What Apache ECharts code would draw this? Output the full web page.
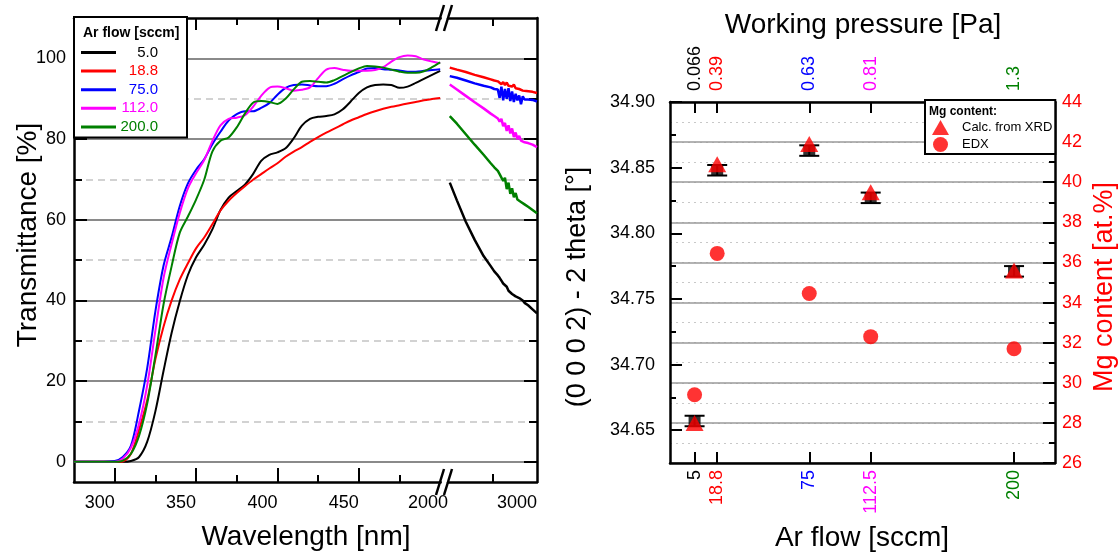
<!DOCTYPE html>
<html lang="en">
<head>
<meta charset="UTF-8">
<title>Transmittance and XRD</title>
<script src="https://cdn.jsdelivr.net/npm/echarts@6/dist/echarts.min.js"></script>
<style>
    html, body { margin: 0; padding: 0; background: #fff; }
    #main { width: 1120px; height: 558px; }
</style>
</head>
<body>
<div id="main"></div>
<script type="text/javascript">
    // ---- left panel: transmittance spectra ----
    var seriesNames = ['5.0', '18.8', '75.0', '112.0', '200.0'];
    var seriesColors = ['#000000', '#ff0000', '#0000ff', '#ff00ff', '#008000'];

    var uvWavelength = [275, 290, 300, 305, 310, 315, 320, 325, 330, 335, 340, 345, 350, 355, 360, 365, 370, 375, 380, 385,
        390, 395, 400, 405, 410, 415, 420, 425, 430, 435, 440, 445, 450, 455, 460, 465, 470, 475, 480, 485, 490, 495, 500];
    var uv5 = [0, 0, 0, 0, 0.2, 1.2, 5, 12.5, 22.5, 32, 39.8, 46.3, 50.7, 53.8, 57.6, 62.4, 65.5, 67.1, 68.7, 71.3,
        74.6, 76.1, 76.7, 77.7, 80.2, 83.3, 85, 85.5, 85.7, 86.1, 87.3, 89.3, 91.4, 92.8, 93.4, 93.5, 93.4, 92.7, 93, 93.9, 94.9, 95.9, 96.9];
    var uv18 = [0, 0, 0, 0.1, 2, 8, 15.3, 25.4, 33.5, 40, 45.2, 49.2, 52.9, 55.6, 58.9, 62.3, 64.7, 66.6, 68.3, 69.9,
        71.3, 72.7, 74, 75.6, 76.9, 78, 79.3, 80.5, 81.6, 82.6, 83.6, 84.6, 85.4, 86.2, 86.9, 87.5, 88, 88.4, 88.8, 89.2, 89.6, 89.9, 90.2];
    var uv75 = [0, 0, 0.2, 1.2, 4, 12.8, 23.3, 37.3, 48.6, 55.7, 63.4, 69, 72.4, 75, 78.7, 81.8, 84.6, 86.2, 86.9, 86.9,
        87.7, 88.9, 91, 92.7, 93.4, 93.5, 93.3, 93.1, 93.1, 93.7, 94.8, 95.8, 96.6, 97.5, 97.6, 97.3, 97.2, 97, 96.7, 96.7, 96.9, 97.1, 97.3];
    var uv112 = [0, 0, 0, 0.8, 3.5, 9.5, 19, 32.5, 45.5, 54, 61.7, 67.8, 71.5, 74.8, 79.5, 83.4, 85, 85.3, 85.9, 88,
        90.7, 92.7, 93, 92.6, 92, 92.2, 92.8, 95.1, 97.2, 97.6, 97.2, 96.9, 96.9, 96.9, 97.1, 97.8, 99.2, 100.3, 100.7, 100.5, 99.7, 99.2, 98.8];
    var uv200 = [0, 0, 0, 0.3, 2, 6.5, 14.5, 26.3, 39, 48.5, 56.8, 60.8, 65, 69.9, 76.9, 79.6, 80.4, 82.9, 86.3, 89,
        89.4, 89.2, 88.7, 90, 92.3, 94.2, 94.4, 94.2, 94, 94.6, 95.6, 96.6, 97.5, 98.1, 98, 97.7, 97.2, 96.7, 96.4, 96.4, 96.8, 97.8, 99];

    var irWavelength = [2020, 2100, 2200, 2300, 2400, 2480, 2520, 2560, 2580, 2600, 2620, 2640, 2660, 2680,
        2700, 2720, 2740, 2760, 2780, 2800, 2820, 2840, 2860, 2880, 2900, 2950, 3000];
    var ir5 = [69.2, 64.8, 59.5, 55.0, 51.0, 48.5, 47.2, 46.2, 45.6, 44.9, 44.2, 43.8, 43.4, 42.4,
        42.6, 41.6, 41.8, 41.0, 40.9, 40.6, 40.4, 40.0, 39.4, 39.2, 38.8, 37.8, 36.8];
    var ir18 = [97.7, 97.2, 96.6, 95.9, 95.3, 94.8, 94.5, 94.3, 94.6, 93.6, 94.1, 93.4, 94.0, 93.2,
        93.6, 93.0, 93.5, 92.6, 93.0, 92.4, 92.6, 92.0, 92.3, 91.9, 92.0, 91.7, 91.4];
    var ir75 = [95.6, 95.2, 94.5, 93.8, 93.2, 92.8, 92.4, 92.3, 90.2, 93.0, 89.6, 92.4, 90.0, 92.6,
        89.4, 91.8, 89.2, 91.2, 89.6, 90.8, 88.6, 90.6, 89.8, 90.2, 89.8, 89.7, 89.3];
    var ir112 = [93.5, 92.3, 90.7, 89.1, 87.6, 86.3, 85.7, 85.1, 84.3, 85.0, 83.2, 84.0, 82.0, 83.4,
        81.4, 82.6, 80.5, 81.6, 80.0, 80.8, 79.6, 80.0, 79.2, 79.4, 79.0, 78.6, 78.0];
    var ir200 = [85.7, 83.8, 81.2, 78.6, 76.1, 74.0, 73.0, 72.1, 71.3, 71.0, 69.6, 70.4, 67.6, 69.2,
        66.4, 67.8, 65.6, 66.6, 65.0, 65.4, 64.4, 64.6, 63.8, 63.6, 63.2, 62.4, 61.6];

    var uvSets = [uv5, uv18, uv75, uv112, uv200];
    var irSets = [ir5, ir18, ir75, ir112, ir200];

    var wlMajorTicks = [300, 350, 400, 450];
    var wlMinorTicks = [325, 375, 425, 475];
    var irLabels = [2000, 3000];
    var irTicks = [2500];
    var tMajorTicks = [0, 20, 40, 60, 80, 100];
    var tMinorTicks = [10, 30, 50, 70, 90];

    // ---- right panel: XRD peak position and Mg content ----
    var arFlow = [5, 18.8, 75, 112.5, 200];
    var pressureLabels = ['0.066', '0.39', '0.63', '0.81', '1.3'];
    var theta0002 = [34.657, 34.848, 34.863, 34.827, 34.771];
    var thetaErr = [0.004, 0.004, 0.004, 0.004, 0.004];
    var mgXrd = [28.0, 40.9, 41.9, 39.5, 35.6];
    var mgEdx = [29.4, 36.45, 34.45, 32.3, 31.7];
    var thetaMajorTicks = [34.65, 34.70, 34.75, 34.80, 34.85, 34.90];
    var thetaMinorTicks = [34.675, 34.725, 34.775, 34.825, 34.875];

    var FONT = 'Arial, "Liberation Sans", sans-serif';
    var BLACK_LINE = { color: '#000', width: 2.5 };
    var TICK_LINE = { color: '#000', width: 2 };

    // layout of the left panel (frame 74..537 x 18..482)
    var LX = 74, LY = 18, LH = 464;
    var TMIN = -5, TMAX = 110;
    function tPx(v) { return LY + (TMAX - v) * LH / (TMAX - TMIN); }

    function zip(xs, ys) { return xs.map(function (x, i) { return [x, ys[i]]; }); }
    function plain(v) { return String(v); }

    var myChart = echarts.init(document.getElementById('main'));

    var series = [];
    seriesNames.forEach(function (name, i) {
        series.push({
            name: name, type: 'line', xAxisIndex: 0, yAxisIndex: 0,
            data: zip(uvWavelength, uvSets[i]),
            symbol: 'none', smooth: 0.3,
            lineStyle: { color: seriesColors[i], width: 2 },
            itemStyle: { color: seriesColors[i] }
        });
    });
    seriesNames.forEach(function (name, i) {
        series.push({
            name: name, type: 'line', xAxisIndex: 4, yAxisIndex: 2,
            data: zip(irWavelength, irSets[i]),
            symbol: 'none',
            lineStyle: { color: seriesColors[i], width: 2.5 },
            itemStyle: { color: seriesColors[i] }
        });
    });

    series.push({
        name: 'theta err', type: 'custom', xAxisIndex: 8, yAxisIndex: 6,
        data: arFlow.map(function (f, i) { return [f, theta0002[i] - thetaErr[i], theta0002[i] + thetaErr[i]]; }),
        encode: { x: 0, y: [1, 2] },
        renderItem: function (params, api) {
            var top = api.coord([api.value(0), api.value(2)]);
            var bot = api.coord([api.value(0), api.value(1)]);
            var w = 10;
            var st = { stroke: '#000', lineWidth: 2 };
            return {
                type: 'group', children: [
                    { type: 'line', shape: { x1: top[0], y1: top[1], x2: bot[0], y2: bot[1] }, style: st },
                    { type: 'line', shape: { x1: top[0] - w, y1: top[1], x2: top[0] + w, y2: top[1] }, style: st },
                    { type: 'line', shape: { x1: bot[0] - w, y1: bot[1], x2: bot[0] + w, y2: bot[1] }, style: st }
                ]
            };
        },
        z: 3
    });
    series.push({
        name: '2theta', type: 'scatter', xAxisIndex: 8, yAxisIndex: 6,
        data: zip(arFlow, theta0002), symbol: 'rect', symbolSize: [12, 11],
        itemStyle: { color: '#000' }, z: 3
    });
    series.push({
        name: 'Calc. from XRD', type: 'scatter', xAxisIndex: 8, yAxisIndex: 9,
        data: zip(arFlow, mgXrd), symbol: 'triangle', symbolSize: [18, 16],
        itemStyle: { color: '#ff0000' }, z: 4
    });
    series.push({
        name: 'EDX', type: 'scatter', xAxisIndex: 8, yAxisIndex: 9,
        data: zip(arFlow, mgEdx), symbol: 'circle', symbolSize: 15,
        itemStyle: { color: '#ff0000' }, z: 4
    });

    function flowColor(val) {
        var i = arFlow.indexOf(Number(val));
        return i < 0 ? '#000' : seriesColors[i];
    }

    function breakMark(y) {
        return [
            { type: 'polygon', z: 100, shape: { points: [[438, y + 13], [446, y - 13], [450, y - 13], [442, y + 13]] }, style: { fill: '#fff' } },
            { type: 'line', z: 101, shape: { x1: 436, y1: y + 13, x2: 444, y2: y - 13 }, style: { stroke: '#000', lineWidth: 2.5 } },
            { type: 'line', z: 101, shape: { x1: 444, y1: y + 13, x2: 452, y2: y - 13 }, style: { stroke: '#000', lineWidth: 2.5 } }
        ];
    }

    function title(text, x, y, rot, color, size) {
        return {
            type: 'text', x: x, y: y, rotation: rot ? Math.PI / 2 : 0, z: 100,
            style: { text: text, fontSize: size || 28, fontFamily: FONT, fill: color || '#000', align: 'center', verticalAlign: 'middle' }
        };
    }

    var option = {
        animation: false,
        backgroundColor: '#fff',
        grid: [
            { left: LX, top: LY, width: 367, height: LH },
            { left: 448, top: LY, width: 89, height: LH },
            { left: LX, top: tPx(100), width: 463, height: tPx(0) - tPx(100) },
            { left: LX, top: tPx(90), width: 463, height: tPx(10) - tPx(90) },
            { left: 670, top: 102, width: 385, height: 361 }
        ],
        xAxis: [
            { gridIndex: 0, type: 'value', position: 'bottom', min: 275, max: 500.5,
                axisLine: { onZero: false, lineStyle: BLACK_LINE },
                axisTick: { inside: true, length: 14, customValues: wlMajorTicks, lineStyle: TICK_LINE },
                axisLabel: { customValues: wlMajorTicks, formatter: plain, align: 'right', margin: 12, fontSize: 18, color: '#000', fontFamily: FONT },
                splitLine: { show: false } },
            { gridIndex: 0, type: 'value', position: 'bottom', min: 275, max: 500.5,
                axisLine: { show: false, onZero: false },
                axisTick: { inside: true, length: 7, customValues: wlMinorTicks, lineStyle: TICK_LINE },
                axisLabel: { show: false }, splitLine: { show: false } },
            { gridIndex: 0, type: 'value', position: 'top', min: 275, max: 500.5,
                axisLine: { onZero: false, lineStyle: BLACK_LINE },
                axisTick: { inside: true, length: 12, customValues: wlMajorTicks, lineStyle: TICK_LINE },
                axisLabel: { show: false }, splitLine: { show: false } },
            { gridIndex: 0, type: 'value', position: 'top', min: 275, max: 500.5,
                axisLine: { show: false, onZero: false },
                axisTick: { inside: true, length: 7, customValues: wlMinorTicks, lineStyle: TICK_LINE },
                axisLabel: { show: false }, splitLine: { show: false } },
            { gridIndex: 1, type: 'value', position: 'bottom', min: 2000, max: 3000,
                axisLine: { onZero: false, lineStyle: BLACK_LINE },
                axisTick: { inside: true, length: 8, customValues: irTicks, lineStyle: TICK_LINE },
                axisLabel: { customValues: irLabels, formatter: plain, align: 'right', margin: 12, fontSize: 18, color: '#000', fontFamily: FONT },
                splitLine: { show: false } },
            { gridIndex: 1, type: 'value', position: 'top', min: 2000, max: 3000,
                axisLine: { onZero: false, lineStyle: BLACK_LINE },
                axisTick: { inside: true, length: 8, customValues: irTicks, lineStyle: TICK_LINE },
                axisLabel: { show: false }, splitLine: { show: false } },
            { gridIndex: 2, type: 'value', min: 0, max: 1, show: false },
            { gridIndex: 3, type: 'value', min: 0, max: 1, show: false },
            { gridIndex: 4, type: 'value', position: 'bottom', min: -10, max: 225,
                axisLine: { onZero: false, lineStyle: BLACK_LINE },
                axisTick: { inside: true, length: 11, customValues: arFlow, lineStyle: TICK_LINE },
                axisLabel: { customValues: arFlow, formatter: plain, rotate: 90, margin: 7, fontSize: 18, fontFamily: FONT, color: flowColor },
                splitLine: { show: false } },
            { gridIndex: 4, type: 'value', position: 'top', min: -10, max: 225,
                axisLine: { onZero: false, lineStyle: BLACK_LINE },
                axisTick: { inside: true, length: 11, customValues: arFlow, lineStyle: TICK_LINE },
                axisLabel: { customValues: arFlow, rotate: -90, margin: 11, fontSize: 18, fontFamily: FONT, color: flowColor,
                    formatter: function (v) { return pressureLabels[arFlow.indexOf(v)]; } },
                splitLine: { show: false } }
        ],
        yAxis: [
            { gridIndex: 0, type: 'value', position: 'left', min: TMIN, max: TMAX,
                axisLine: { onZero: false, lineStyle: BLACK_LINE },
                axisTick: { inside: true, length: 13, customValues: tMajorTicks, lineStyle: TICK_LINE },
                axisLabel: { customValues: tMajorTicks, margin: 8, fontSize: 18, color: '#000', fontFamily: FONT },
                splitLine: { show: false } },
            { gridIndex: 0, type: 'value', position: 'left', min: TMIN, max: TMAX,
                axisLine: { show: false, onZero: false },
                axisTick: { inside: true, length: 8, customValues: tMinorTicks, lineStyle: TICK_LINE },
                axisLabel: { show: false }, splitLine: { show: false } },
            { gridIndex: 1, type: 'value', position: 'right', min: TMIN, max: TMAX,
                axisLine: { onZero: false, lineStyle: BLACK_LINE },
                axisTick: { inside: true, length: 13, customValues: tMajorTicks, lineStyle: TICK_LINE },
                axisLabel: { show: false }, splitLine: { show: false } },
            { gridIndex: 1, type: 'value', position: 'right', min: TMIN, max: TMAX,
                axisLine: { show: false, onZero: false },
                axisTick: { inside: true, length: 8, customValues: tMinorTicks, lineStyle: TICK_LINE },
                axisLabel: { show: false }, splitLine: { show: false } },
            { gridIndex: 2, type: 'value', min: 0, max: 100, interval: 20,
                axisLine: { show: false }, axisTick: { show: false }, axisLabel: { show: false },
                splitLine: { show: true, lineStyle: { color: '#8a8a8a', width: 2 } } },
            { gridIndex: 3, type: 'value', min: 10, max: 90, interval: 20,
                axisLine: { show: false }, axisTick: { show: false }, axisLabel: { show: false },
                splitLine: { show: true, lineStyle: { color: '#c4c4c4', width: 1.5, type: [7, 5] } } },
            { gridIndex: 4, type: 'value', position: 'left', min: 34.625, max: 34.9,
                axisLine: { onZero: false, lineStyle: BLACK_LINE },
                axisTick: { inside: true, length: 12, customValues: thetaMajorTicks, lineStyle: TICK_LINE },
                axisLabel: { customValues: thetaMajorTicks, margin: 15, fontSize: 18, color: '#000', fontFamily: FONT,
                    formatter: function (v) { return v.toFixed(2); } },
                splitLine: { show: false } },
            { gridIndex: 4, type: 'value', position: 'left', min: 34.625, max: 34.9,
                axisLine: { show: false, onZero: false },
                axisTick: { inside: true, length: 6, customValues: thetaMinorTicks, lineStyle: TICK_LINE },
                axisLabel: { show: false }, splitLine: { show: false } },
            { gridIndex: 4, type: 'value', position: 'right', min: 26, max: 44, interval: 1,
                axisLine: { onZero: false, lineStyle: BLACK_LINE },
                axisTick: { inside: true, length: 6, lineStyle: TICK_LINE },
                axisLabel: { show: false },
                splitLine: { show: true, lineStyle: { color: '#c8c8c8', width: 1, type: [2, 4] } } },
            { gridIndex: 4, type: 'value', position: 'right', min: 26, max: 44, interval: 2,
                axisLine: { show: false, onZero: false },
                axisTick: { inside: true, length: 12, lineStyle: TICK_LINE },
                axisLabel: { margin: 7, fontSize: 18, color: '#ff0000', fontFamily: FONT },
                splitLine: { show: true, lineStyle: { color: '#9a9a9a', width: 1.5 } } }
        ],
        legend: [
            {
                data: seriesNames.map(function (n, i) { return { name: n, textStyle: { color: seriesColors[i] } }; }),
                orient: 'vertical', left: LX, top: 17,
                backgroundColor: '#fff', borderColor: '#000', borderWidth: 2, borderRadius: 0,
                padding: [28, 29, 3, 7],
                icon: 'rect', itemWidth: 35, itemHeight: 3, itemGap: 3.6,
                formatter: function (name) { return '{v|' + name + '}'; },
                textStyle: { fontSize: 15, fontFamily: FONT, lineHeight: 14,
                    rich: { v: { width: 37, align: 'right', fontSize: 15, fontFamily: FONT, lineHeight: 14 } } },
                selectedMode: false
            },
            {
                data: ['Calc. from XRD', 'EDX'],
                orient: 'vertical', left: 925, top: 100,
                backgroundColor: '#fff', borderColor: '#000', borderWidth: 2, borderRadius: 0,
                padding: [20, 3, 2, 7],
                itemWidth: 17, itemHeight: 15, itemGap: 2,
                textStyle: { fontSize: 13, fontFamily: FONT, color: '#000', padding: [0, 0, 0, 8] },
                selectedMode: false
            }
        ],
        graphic: [
            { type: 'text', x: 83, y: 33, z: 100,
                style: { text: 'Ar flow [sccm]', fontSize: 14, fontWeight: 'bold', fontFamily: FONT, fill: '#000', verticalAlign: 'middle' } },
            { type: 'text', x: 929, y: 112, z: 100,
                style: { text: 'Mg content:', fontSize: 12, fontWeight: 'bold', fontFamily: FONT, fill: '#000', verticalAlign: 'middle' } },
            title('Wavelength [nm]', 306, 537),
            title('Transmittance [%]', 28, 235, true),
            title('Working pressure [Pa]', 863, 25),
            title('Ar flow [sccm]', 862, 538),
            title('(0 0 0 2) - 2 theta [°]', 578, 287, true, '#000', 27),
            title('Mg content [at.%]', 1105, 287, true, '#ff0000', 27)
        ].concat(breakMark(482)).concat(breakMark(18)),
        series: series
    };

    option && myChart.setOption(option);
</script>
</body>
</html>
